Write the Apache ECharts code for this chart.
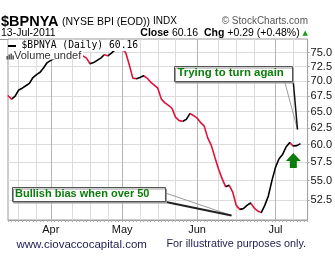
<!DOCTYPE html>
<html><head><meta charset="utf-8">
<script src="https://cdn.jsdelivr.net/npm/echarts@6/dist/echarts.min.js"></script>
<style>html,body{margin:0;padding:0;background:#fff}#c{width:335px;height:263px}</style>
</head><body><div id="c"></div>
<script>
// ---- data (trading days, 2011) ----
const marchDays = [16,17,18,21,22,23,24,25,28,29,30,31];
const aprilDays = [1,4,5,6,7,8,11,12,13,14,15,18,19,20,21,25,26,27,28,29];
const mayDays   = [2,3,4,5,6,9,10,11,12,13,16,17,18,19,20,23,24,25,26,27,31];
const juneDays  = [1,2,3,6,7,8,9,10,13,14,15,16,17,20,21,22,23,24,27,28,29,30];
const julyDays  = [1,5,6,7,8,11,12,13];
const julyPadDays = [14,15];            // empty room at the right edge

const closeValues = [
  67.6, 67.0, 67.5, 68.5, 68.8, 69.2, 69.6, 70.6, 71.1, 71.5, 72.3, 73.2,
  73.6, 73.9, 74.3, 74.1, 74.5, 74.8, 74.6, 74.9,
  74.5, 74.4, 74.0, 73.0, 73.2, 73.6, 74.0, 74.6, 74.4, 74.9,
  75.5, 75.9, 75.6, 75.0, 72.8, 70.5,
  70.4, 70.6, 70.9, 70.5, 69.8, 69.3, 68.8, 67.0, 66.4, 66.0, 65.5, 64.1, 63.6,
  63.5, 63.8, 64.7, 64.4, 64.0, 63.3, 62.8,
  61.0, 59.9, 58.2, 56.6, 55.3,
  54.2, 54.4, 53.5, 51.8, 51.3, 51.4, 51.8, 52.1, 51.5, 51.1, 50.9,
  51.8, 53.0, 55.0, 56.8, 58.0, 58.6, 59.7, 60.3, 59.8, 59.87, 60.16
];

const yTickValues = [52.5, 55, 57.5, 60, 62.5, 65, 67.5, 70, 72.5, 75];
const yMin = 50, yMax = 77.5;
const weeklyGridDates = ['2011-03-21','2011-03-28','2011-04-11','2011-04-18','2011-04-26',
  '2011-05-09','2011-05-16','2011-05-23','2011-06-09','2011-06-16','2011-06-23','2011-07-11'];
const monthNames = ['Jan','Feb','Mar','Apr','May','Jun','Jul','Aug','Sep','Oct','Nov','Dec'];
const arrowAnchor = ['2011-07-11', 57.75];

// ---- build categories ----
function pad(n){ return (n < 10 ? '0' : '') + n; }
function mk(month, days){ return days.map(d => '2011-' + pad(month) + '-' + pad(d)); }
const tradingDays = [].concat(mk(3, marchDays), mk(4, aprilDays), mk(5, mayDays), mk(6, juneDays), mk(7, julyDays));
const categories = tradingDays.concat(mk(7, julyPadDays));

function isMonthStart(i){
  if (i <= 0 || i >= tradingDays.length) return false;
  return categories[i].slice(5,7) !== categories[i-1].slice(5,7);
}
const weeklySet = new Set(weeklyGridDates);

// up/down colouring pieces (by category index)
const pieces = [];
(function(){
  const n = closeValues.length;
  let start = 0, up = closeValues[1] >= closeValues[0];
  for (let i = 2; i <= n; i++) {
    const u = i < n ? closeValues[i] >= closeValues[i-1] : !up;
    if (u !== up) {
      const p = { lte: i - 1, color: up ? '#000000' : '#e0103a' };
      if (start === 0) p.gte = 0; else p.gt = start;
      pieces.push(p);
      start = i - 1; up = u;
    }
  }
})();
const seriesData = closeValues.map((v, i) => [i, v]);

const FONT = 'Liberation Sans';
const chart = echarts.init(document.getElementById('c'), null, {renderer: 'canvas'});
chart.setOption({
  animation: false,
  textStyle: { fontFamily: FONT },
  grid: { left: 8, right: 25, top: 39, bottom: 43, show: true, borderColor: '#9a9a9a', borderWidth: 1 },
  xAxis: [{
    type: 'category', data: categories, boundaryGap: false,
    min: 0, max: categories.length - 1,
    axisLine: { show: true, lineStyle: { color: '#9a9a9a' } },
    axisTick: { show: true, interval: 0, length: 2, lineStyle: { color: '#b0b0b0' } },
    axisLabel: { interval: (i) => isMonthStart(i), formatter: v => monthNames[+v.slice(5,7) - 1],
                 margin: 4, fontSize: 11, color: '#111', fontFamily: FONT },
    splitLine: { show: true, interval: (i) => isMonthStart(i), lineStyle: { color: '#b4b4b4', width: 1 } }
  }, {
    type: 'category', data: categories, boundaryGap: false, position: 'bottom',
    min: 0, max: categories.length - 1,
    axisLine: { show: false }, axisTick: { show: false }, axisLabel: { show: false },
    splitLine: { show: true, interval: (i, v) => weeklySet.has(v), lineStyle: { color: '#dcdcdc', width: 1 } }
  }],
  yAxis: {
    type: 'log', logBase: 10, min: yMin, max: yMax, position: 'right',
    axisLine: { show: false },
    axisTick: { show: true, length: 2, customValues: yTickValues, lineStyle: { color: '#9a9a9a' } },
    axisLabel: { customValues: yTickValues, formatter: v => Number(v).toFixed(1), margin: 3,
                 fontSize: 11, color: '#111', fontFamily: FONT },
    splitLine: { show: true, lineStyle: { color: '#dcdcdc', width: 1 } }
  },
  visualMap: { type: 'piecewise', show: false, dimension: 0, seriesIndex: 0, pieces: pieces,
               outOfRange: { color: '#000' } },
  series: [{
    type: 'line', data: seriesData, xAxisIndex: 0, showSymbol: false, symbol: 'none',
    lineStyle: { width: 1.6 }, silent: true, z: 3,
    markPoint: {
      silent: true, animation: false,
      data: [{ coord: arrowAnchor, symbol: 'path://M7.5,0 L15,8 L11,8 L11,15 L4,15 L4,8 L0,8 Z',
               symbolSize: [15, 15], itemStyle: { color: '#0a7d0a' }, label: { show: false } }]
    }
  }],
  graphic: [
    // header
    { type: 'text', z: 100, left: 1, top: 14, style: { text: '$BPNYA', font: 'bold 14.5px ' + FONT, fill: '#000' } },
    { type: 'text', z: 100, left: 62, top: 16.5, style: { text: '(NYSE BPI (EOD))', font: '10.5px ' + FONT, fill: '#000' } },
    { type: 'text', z: 100, left: 153, top: 16.5, style: { text: 'INDX', font: '10px ' + FONT, fill: '#000' } },
    { type: 'text', z: 100, right: 27, top: 16.5, style: { text: '\u00a9 StockCharts.com', font: '10px ' + FONT, fill: '#555' } },
    { type: 'text', z: 100, left: 1, top: 28, style: { text: '13-Jul-2011', font: '10.5px ' + FONT, fill: '#000' } },
    { type: 'text', z: 100, right: 27, top: 28, style: {
        text: '{b|Close} 60.16  {b|Chg} +0.29 (+0.48%) {g|\u25b2}',
        font: '10.5px ' + FONT, fill: '#000',
        rich: { b: { fontWeight: 'bold', fontSize: 10.5, fontFamily: FONT, fill: '#000' },
                g: { fontSize: 7, fontFamily: 'DejaVu Sans', fill: '#1a9a1a' } } } },
    { type: 'line', z: 100, shape: { x1: 0, y1: 39.5, x2: 8, y2: 39.5 }, style: { stroke: '#9a9a9a', lineWidth: 1 } },
    // legend
    { type: 'rect', z: 100, shape: { x: 8.5, y: 40, width: 131, height: 11 }, style: { fill: '#fff' } },
    { type: 'rect', z: 100, shape: { x: 8.5, y: 51, width: 74.5, height: 8.5 }, style: { fill: '#fff' } },
    { type: 'line', z: 101, shape: { x1: 8, y1: 46, x2: 16, y2: 46 }, style: { stroke: '#000', lineWidth: 2 } },
    { type: 'text', z: 101, left: 21.5, top: 40.5, style: { text: '$BPNYA (Daily) 60.16', font: '9.7px "DejaVu Sans Mono"', fill: '#000' } },
    { type: 'rect', z: 101, shape: { x: 6.5, y: 56, width: 1.4, height: 3.5 }, style: { fill: '#444' } },
    { type: 'rect', z: 101, shape: { x: 8.5, y: 54.5, width: 1.4, height: 5 }, style: { fill: '#444' } },
    { type: 'rect', z: 101, shape: { x: 10.5, y: 53.5, width: 1.4, height: 6 }, style: { fill: '#444' } },
    { type: 'rect', z: 101, shape: { x: 12.5, y: 55.5, width: 1.4, height: 4 }, style: { fill: '#444' } },
    { type: 'text', z: 101, left: 14, top: 50.5, style: { text: 'Volume undef', font: '11px ' + FONT, fill: '#333' } },
    // annotation: Trying to turn again
    { type: 'line', z: 102, shape: { x1: 284.5, y1: 81, x2: 297.5, y2: 129.5 }, style: { stroke: '#9a9a9a', lineWidth: 1 } },
    { type: 'line', z: 102, shape: { x1: 292, y1: 67.5, x2: 297.5, y2: 129.5 }, style: { stroke: '#111', lineWidth: 1.5 } },
    { type: 'rect', z: 103, shape: { x: 174.5, y: 66.5, width: 118, height: 15 },
      style: { fill: '#fff', stroke: '#555', lineWidth: 1, shadowColor: '#999', shadowOffsetX: 1, shadowOffsetY: 1.5, shadowBlur: 0 } },
    { type: 'text', z: 104, left: 177.5, top: 67.5, style: { text: 'Trying to turn again', font: 'bold 11.4px ' + FONT, fill: '#0b7d0b' } },
    // annotation: Bullish bias when over 50
    { type: 'line', z: 102, shape: { x1: 165.5, y1: 193, x2: 231.5, y2: 215.5 }, style: { stroke: '#9a9a9a', lineWidth: 1 } },
    { type: 'line', z: 102, shape: { x1: 163.5, y1: 201.5, x2: 231.5, y2: 215.5 }, style: { stroke: '#222', lineWidth: 2 } },
    { type: 'rect', z: 103, shape: { x: 12.5, y: 187.5, width: 153, height: 14 },
      style: { fill: '#fff', stroke: '#555', lineWidth: 1, shadowColor: '#999', shadowOffsetX: 1, shadowOffsetY: 1.5, shadowBlur: 0 } },
    { type: 'text', z: 104, left: 15, top: 188.5, style: { text: 'Bullish bias when over 50', font: 'bold 11px ' + FONT, fill: '#0b7d0b' } },
    // footer
    { type: 'text', z: 100, left: 16.5, top: 238.5, style: { text: 'www.ciovaccocapital.com', font: '11.5px ' + FONT, fill: '#1c1c50' } },
    { type: 'text', z: 100, left: 166.5, top: 238.5, style: { text: 'For illustrative purposes only.', font: '10.8px ' + FONT, fill: '#1c1c50' } }
  ]
});
</script>
</body></html>
